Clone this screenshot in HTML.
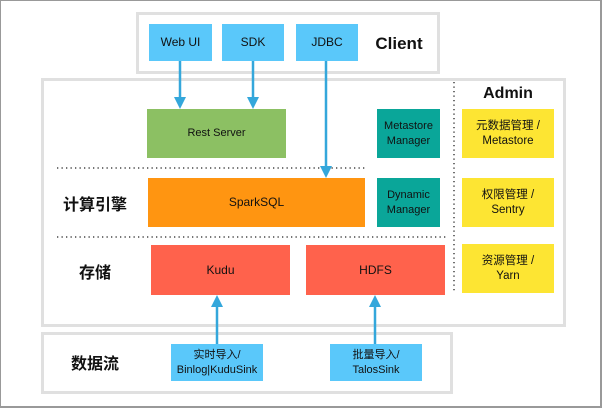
<!DOCTYPE html>
<html><head><meta charset="utf-8"><style>
body{margin:0;width:604px;height:409px;background:#fff;position:relative;overflow:hidden;font-family:"Liberation Sans","Noto Sans CJK SC",sans-serif;}
.a{position:absolute;box-sizing:border-box;}
.bx{position:absolute;box-sizing:border-box;display:flex;align-items:center;justify-content:center;text-align:center;font-size:11px;line-height:15px;color:#111;}
.fr{position:absolute;box-sizing:border-box;border:3px solid #e0e0e0;}
.lb{position:absolute;font-weight:bold;font-size:16px;color:#111;transform:translate(-50%,-50%);white-space:nowrap;}
.blue{background:#5ac8fa}.y{background:#fde533}.t{background:#0aa699}
.big{font-size:12px;}
</style></head><body>
<div class="a" style="left:0;top:0;width:602px;height:408px;border:1px solid #999;border-right-width:2px;border-bottom-width:2px;"></div>
<div class="fr" style="left:136px;top:12px;width:304px;height:62px;"></div>
<div class="fr" style="left:41px;top:78px;width:525px;height:249px;"></div>
<div class="fr" style="left:41px;top:332px;width:412px;height:62px;"></div>

<div class="bx blue big" style="left:149px;top:24px;width:63px;height:37px;">Web UI</div>
<div class="bx blue big" style="left:222px;top:24px;width:62px;height:37px;">SDK</div>
<div class="bx blue big" style="left:296px;top:24px;width:62px;height:37px;">JDBC</div>
<div class="lb" style="left:399px;top:44px;font-size:17px;">Client</div>
<div class="lb" style="left:508px;top:94px;font-size:16px;">Admin</div>

<div class="bx" style="left:147px;top:109px;width:139px;height:49px;background:#8cc063;font-size:11px;">Rest Server</div>
<div class="bx t" style="left:377px;top:109px;width:63px;height:49px;">Metastore<br>Manager</div>
<div class="bx y" style="left:462px;top:109px;width:92px;height:49px;font-size:11.5px;">元数据管理 /<br>Metastore</div>

<div class="bx big" style="left:148px;top:178px;width:217px;height:49px;background:#ff9511;">SparkSQL</div>
<div class="bx t" style="left:377px;top:178px;width:63px;height:49px;">Dynamic<br>Manager</div>
<div class="bx y" style="left:462px;top:178px;width:92px;height:49px;font-size:11.5px;">权限管理 /<br>Sentry</div>

<div class="bx big" style="left:151px;top:245px;width:139px;height:50px;background:#ff624c;">Kudu</div>
<div class="bx big" style="left:306px;top:245px;width:139px;height:50px;background:#ff624c;">HDFS</div>
<div class="bx y" style="left:462px;top:244px;width:92px;height:49px;font-size:11.5px;">资源管理 /<br>Yarn</div>

<div class="bx blue" style="left:171px;top:344px;width:92px;height:37px;">实时导入/<br>Binlog|KuduSink</div>
<div class="bx blue" style="left:330px;top:344px;width:92px;height:37px;">批量导入/<br>TalosSink</div>

<div class="lb" style="left:95px;top:203px;">计算引擎</div>
<div class="lb" style="left:95px;top:271px;">存储</div>
<div class="lb" style="left:95px;top:362px;">数据流</div>

<svg class="a" style="left:0;top:0" width="604" height="409">
<g stroke="#222" stroke-width="1.3" stroke-dasharray="1.3 3.2">
<line x1="57" y1="168" x2="367" y2="168"/>
<line x1="57" y1="237" x2="446" y2="237"/>
<line x1="454" y1="82" x2="454" y2="292"/>
</g>
<g stroke="#34a7db" stroke-width="2.5" fill="#34a7db">
<line x1="180" y1="61" x2="180" y2="98"/><polygon stroke="none" points="174,97 186,97 180,109"/>
<line x1="253" y1="61" x2="253" y2="98"/><polygon stroke="none" points="247,97 259,97 253,109"/>
<line x1="326" y1="61" x2="326" y2="167"/><polygon stroke="none" points="320,166 332,166 326,178"/>
<line x1="217" y1="344" x2="217" y2="305"/><polygon stroke="none" points="211,307 223,307 217,295"/>
<line x1="375" y1="344" x2="375" y2="305"/><polygon stroke="none" points="369,307 381,307 375,295"/>
</g>
</svg>
</body></html>
